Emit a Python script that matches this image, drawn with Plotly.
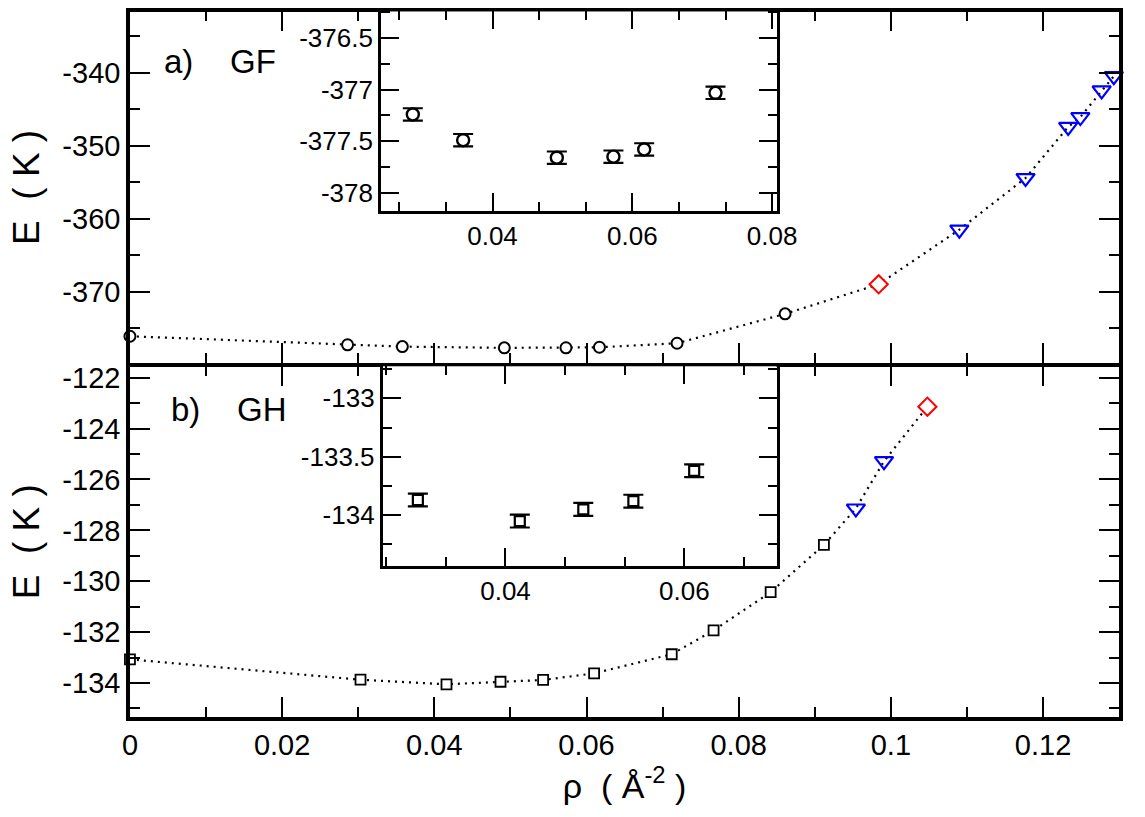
import plotly.graph_objects as go

# ---------------- data ----------------
# panel a) GF
gf_circ_x = [0.0, 0.0286, 0.0358, 0.0492, 0.0573, 0.0617, 0.0719, 0.0861]
gf_circ_y = [-376.07, -377.24, -377.49, -377.66, -377.65, -377.58, -377.03, -373.0]
gf_diam_x = [0.0984]
gf_diam_y = [-368.95]
gf_tri_x = [0.1090, 0.1177, 0.1233, 0.1249, 0.1277, 0.1293]
gf_tri_y = [-361.47, -354.4, -347.4, -346.05, -342.4, -340.45]
gf_line_x = gf_circ_x + gf_diam_x + gf_tri_x
gf_line_y = gf_circ_y + gf_diam_y + gf_tri_y

# inset a)
gf_in_x = [0.0286, 0.0358, 0.0492, 0.0573, 0.0617, 0.0719]
gf_in_y = [-377.24, -377.49, -377.66, -377.65, -377.58, -377.03]
gf_in_err = [0.06, 0.06, 0.06, 0.06, 0.06, 0.06]

# panel b) GH
gh_sq_x = [0.0, 0.0303, 0.0416, 0.0487, 0.0543, 0.0610, 0.0712, 0.0767, 0.0842, 0.0912]
gh_sq_y = [-133.07, -133.87, -134.05, -133.95, -133.88, -133.62, -132.87, -131.93, -130.43, -128.57]
gh_tri_x = [0.0954, 0.0991]
gh_tri_y = [-127.14, -125.28]
gh_diam_x = [0.1048]
gh_diam_y = [-123.14]
gh_line_x = gh_sq_x + gh_tri_x + gh_diam_x
gh_line_y = gh_sq_y + gh_tri_y + gh_diam_y

# inset b)
gh_in_x = [0.0302, 0.0416, 0.0487, 0.0543, 0.0611]
gh_in_y = [-133.87, -134.05, -133.95, -133.88, -133.62]
gh_in_err = [0.055, 0.055, 0.055, 0.055, 0.055]

# tick labels
x_main_ticks = [0, 0.02, 0.04, 0.06, 0.08, 0.1, 0.12]
x_main_labels = ["0", "0.02", "0.04", "0.06", "0.08", "0.1", "0.12"]
ya_ticks = [-370, -360, -350, -340]
ya_labels = ["-370", "-360", "-350", "-340"]
yb_ticks = [-134, -132, -130, -128, -126, -124, -122]
yb_labels = ["-134", "-132", "-130", "-128", "-126", "-124", "-122"]
yia_ticks = [-378, -377.5, -377, -376.5]
yia_labels = ["-378", "-377.5", "-377", "-376.5"]
xia_ticks = [0.04, 0.06, 0.08]
xia_labels = ["0.04", "0.06", "0.08"]
yib_ticks = [-134, -133.5, -133]
yib_labels = ["-134", "-133.5", "-133"]
xib_ticks = [0.04, 0.06]
xib_labels = ["0.04", "0.06"]

BLACK = "#000000"
WHITE = "#ffffff"
BLUE = "#0000ff"
RED = "#ff0000"
FONT = "Liberation Sans, Arial, sans-serif"
DOT = "2px,5px"

fig = go.Figure()

# ---------- panel a ----------
fig.add_trace(go.Scatter(x=gf_line_x, y=gf_line_y, mode="lines",
                         line=dict(color=BLACK, width=2.2, dash=DOT),
                         xaxis="x", yaxis="y", showlegend=False, hoverinfo="skip"))
fig.add_trace(go.Scatter(x=gf_circ_x, y=gf_circ_y, mode="markers",
                         marker=dict(symbol="circle", size=11, color=WHITE, line=dict(width=2, color=BLACK)),
                         xaxis="x", yaxis="y", showlegend=False, cliponaxis=False))
fig.add_trace(go.Scatter(x=gf_diam_x, y=gf_diam_y, mode="markers",
                         marker=dict(symbol="diamond", size=14, color=WHITE, line=dict(width=2, color=RED)),
                         xaxis="x", yaxis="y", showlegend=False))
fig.add_trace(go.Scatter(x=gf_tri_x, y=gf_tri_y, mode="markers",
                         marker=dict(symbol="triangle-down-open", size=16, color=BLUE, line=dict(width=2.2, color=BLUE)),
                         xaxis="x", yaxis="y", showlegend=False, cliponaxis=False))

# ---------- panel b ----------
fig.add_trace(go.Scatter(x=gh_line_x, y=gh_line_y, mode="lines",
                         line=dict(color=BLACK, width=2.2, dash=DOT),
                         xaxis="x2", yaxis="y2", showlegend=False, hoverinfo="skip"))
fig.add_trace(go.Scatter(x=gh_sq_x, y=gh_sq_y, mode="markers",
                         marker=dict(symbol="square", size=10, color=WHITE, line=dict(width=1.8, color=BLACK)),
                         xaxis="x2", yaxis="y2", showlegend=False, cliponaxis=False))
fig.add_trace(go.Scatter(x=gh_tri_x, y=gh_tri_y, mode="markers",
                         marker=dict(symbol="triangle-down-open", size=16, color=BLUE, line=dict(width=2.2, color=BLUE)),
                         xaxis="x2", yaxis="y2", showlegend=False))
fig.add_trace(go.Scatter(x=gh_diam_x, y=gh_diam_y, mode="markers",
                         marker=dict(symbol="diamond", size=14, color=WHITE, line=dict(width=2, color=RED)),
                         xaxis="x2", yaxis="y2", showlegend=False))

# ---------- inset a ----------
fig.add_trace(go.Scatter(x=gf_in_x, y=gf_in_y, mode="markers",
                         error_y=dict(type="data", array=gf_in_err, color=BLACK, thickness=2.2, width=10),
                         marker=dict(symbol="circle", size=12, color=WHITE, line=dict(width=2.4, color=BLACK)),
                         xaxis="x3", yaxis="y3", showlegend=False))

# ---------- inset b ----------
fig.add_trace(go.Scatter(x=gh_in_x, y=gh_in_y, mode="markers",
                         error_y=dict(type="data", array=gh_in_err, color=BLACK, thickness=2.2, width=10),
                         marker=dict(symbol="square", size=10, color=WHITE, line=dict(width=2.2, color=BLACK)),
                         xaxis="x4", yaxis="y4", showlegend=False))

W, H = 1145, 817
def px_x(p):
    return p / W
def px_y(p):
    return 1 - p / H

main_x_dom = [px_x(125), px_x(1139)]
tick_font = dict(family=FONT, size=29, color=BLACK)
in_font = dict(family=FONT, size=26, color=BLACK)
title_font = dict(family=FONT, size=37, color=BLACK)

def axis_common(lw, tlen):
    return dict(showline=True, linecolor=BLACK, linewidth=lw, mirror="ticks",
                ticks="inside", ticklen=tlen, tickwidth=2, tickcolor=BLACK,
                showgrid=False, zeroline=False, tickmode="array")

def minor(dt, ln):
    return dict(tickmode="linear", tick0=0, dtick=dt, ticks="inside", ticklen=ln, tickwidth=2, tickcolor=BLACK)

fig.update_layout(
    width=W, height=H,
    margin=dict(l=0, r=0, t=0, b=0),
    paper_bgcolor="white", plot_bgcolor="white",
    font=dict(family=FONT, color=BLACK),
    xaxis=dict(domain=main_x_dom, anchor="y", range=[0, 0.13],
               tickvals=x_main_ticks, showticklabels=False,
               minor=minor(0.01, 10), **axis_common(3.5, 20)),
    yaxis=dict(domain=[px_y(360.25), px_y(6.75)], anchor="x", range=[-379.74, -331.62],
               tickvals=ya_ticks, ticktext=ya_labels, tickfont=tick_font,
               minor=minor(5, 10),
               title=dict(text="E  ( K )", font=title_font, standoff=12),
               **axis_common(3.5, 20)),
    xaxis2=dict(domain=main_x_dom, anchor="y2", range=[0, 0.13],
                tickvals=x_main_ticks, ticktext=x_main_labels, tickfont=tick_font,
                minor=minor(0.01, 10),
                title=dict(text="ρ  ( Å<sup>-2</sup> )", font=dict(family=FONT, size=34, color=BLACK), standoff=8),
                **axis_common(3.5, 20)),
    yaxis2=dict(domain=[px_y(716.25), px_y(363.75)], anchor="x2", range=[-135.33, -121.56],
                tickvals=yb_ticks, ticktext=yb_labels, tickfont=tick_font,
                minor=minor(1, 10),
                title=dict(text="E  ( K )", font=title_font, standoff=12),
                **axis_common(3.5, 20)),
    xaxis3=dict(domain=[px_x(382.5), px_x(788.5)], anchor="y3", range=[0.02407, 0.08073],
                tickvals=xia_ticks, ticktext=xia_labels, tickfont=in_font, ticklabelstandoff=0,
                minor=minor(0.02 / 3, 9), **axis_common(3, 18)),
    yaxis3=dict(domain=[px_y(207.5), px_y(6.5)], anchor="x3", range=[-378.18, -376.24],
                tickvals=yia_ticks, ticktext=yia_labels, tickfont=in_font,
                minor=minor(0.25, 9), **axis_common(3, 18)),
    xaxis4=dict(domain=[px_x(384.2), px_x(787.8)], anchor="y4", range=[0.02628, 0.07031],
                tickvals=xib_ticks, ticktext=xib_labels, tickfont=in_font, ticklabelstandoff=0,
                minor=minor(0.02 / 3, 9), **axis_common(3, 18)),
    yaxis4=dict(domain=[px_y(564.5), px_y(363.5)], anchor="x4", range=[-134.435, -132.726],
                tickvals=yib_ticks, ticktext=yib_labels, tickfont=in_font,
                minor=minor(0.25, 9), **axis_common(3, 18)),
    annotations=[
        dict(text="a)    GF", x=px_x(158), y=px_y(57), xref="paper", yref="paper",
             xanchor="left", yanchor="middle", showarrow=False,
             font=dict(family=FONT, size=33, color=BLACK)),
        dict(text="b)    GH", x=px_x(165), y=px_y(407), xref="paper", yref="paper",
             xanchor="left", yanchor="middle", showarrow=False,
             font=dict(family=FONT, size=33, color=BLACK)),
    ],
)

fig.write_html(
    "out.html",
    config={"displayModeBar": False, "responsive": False},
    post_script=("document.body.style.margin='0px';"
                 "document.body.style.overflow='hidden';"
                 "document.documentElement.style.overflow='hidden';"),
)
